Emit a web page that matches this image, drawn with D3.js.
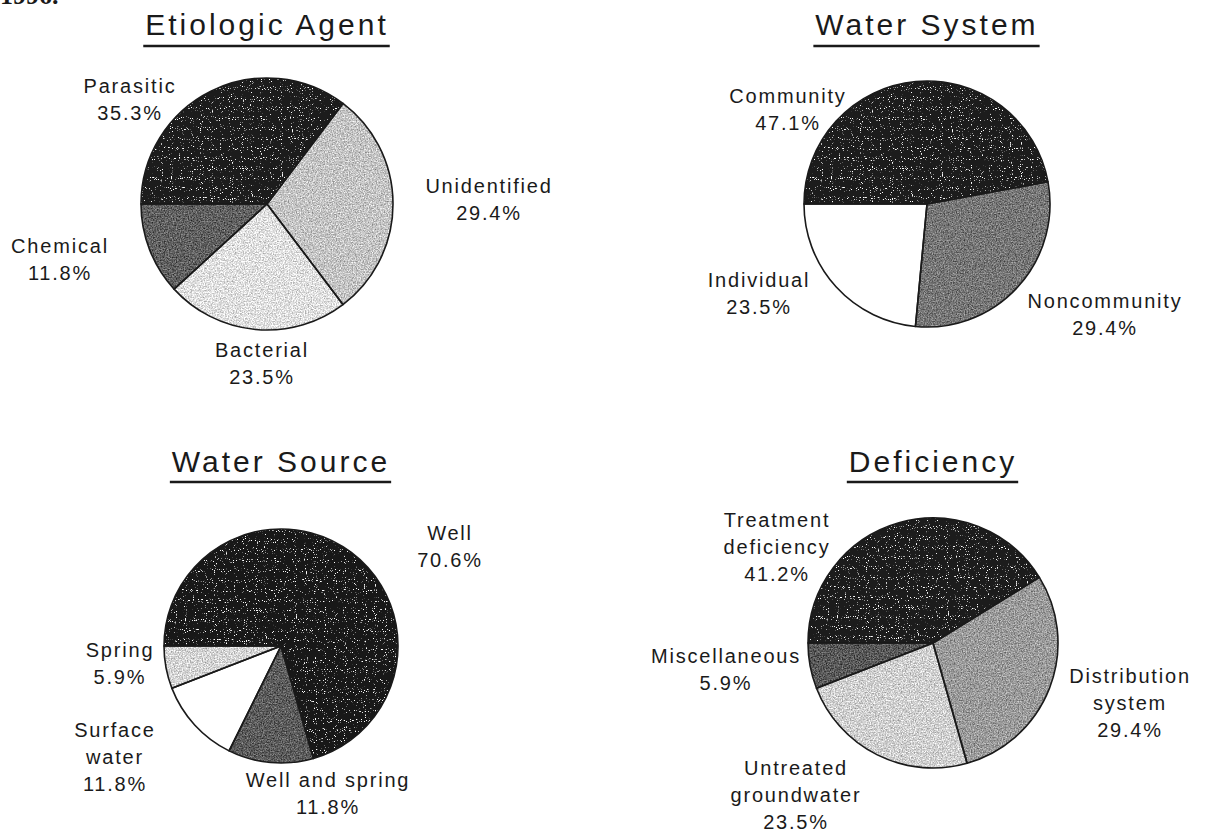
<!DOCTYPE html>
<html>
<head>
<meta charset="utf-8">
<script src="https://cdn.jsdelivr.net/npm/d3@7"></script>
<style>
  html, body { margin: 0; padding: 0; background: #fff; }
  svg { display: block; }
  text { font-family: "Liberation Sans", Arial, sans-serif; fill: #1a1a1a; }
</style>
</head>
<body>
<svg id="chart" width="1205" height="832"></svg>
<script>
// ---------- data ----------
const titles = ["Etiologic Agent", "Water System", "Water Source", "Deficiency"];

const etiologicLabels = ["Parasitic", "Unidentified", "Bacterial", "Chemical"];
const etiologicValues = [35.3, 29.4, 23.5, 11.8];

const systemLabels = ["Community", "Noncommunity", "Individual"];
const systemValues = [47.1, 29.4, 23.5];

const sourceLabels = ["Well", "Well and spring", "Surface\nwater", "Spring"];
const sourceValues = [70.6, 11.8, 11.8, 5.9];

const deficiencyLabels = ["Treatment\ndeficiency", "Distribution\nsystem", "Untreated\ngroundwater", "Miscellaneous"];
const deficiencyValues = [41.2, 29.4, 23.5, 5.9];

// ---------- styling / layout ----------
const fills = [
  ["#1c1c1c", "#c4c4c4", "#e0e0e0", "#606060"],
  ["#1c1c1c", "#767676", "#ffffff"],
  ["#181818", "#5c5c5c", "#ffffff", "#d4d4d4"],
  ["#1c1c1c", "#9a9a9a", "#d0d0d0", "#585858"]
];

const layout = [
  { cx: 267, cy: 204, r: 126, titleY: 35, lineY: 46,
    labels: [[130, 93], [489, 193], [262, 357], [60, 253]] },
  { cx: 927, cy: 204, r: 123, titleY: 35, lineY: 46,
    labels: [[788, 103], [1105, 308], [759, 287]] },
  { cx: 281, cy: 646, r: 117, titleY: 472, lineY: 482,
    labels: [[450, 540], [328, 787], [115, 737], [120, 657]] },
  { cx: 933, cy: 643, r: 125, titleY: 472, lineY: 482,
    labels: [[777, 527], [1130, 683], [796, 775], [726, 663]] }
];

const datasets = [
  { labels: etiologicLabels, values: etiologicValues },
  { labels: systemLabels, values: systemValues },
  { labels: sourceLabels, values: sourceValues },
  { labels: deficiencyLabels, values: deficiencyValues }
];

const svg = d3.select("#chart");
const fmt = d3.format(".1f");
const lineH = 27;

// texture filters imitating the halftone print
const defs = svg.append("defs");
const sp = defs.append("filter").attr("id", "speckle")
  .attr("x", "0").attr("y", "0").attr("width", "1").attr("height", "1")
  .attr("color-interpolation-filters", "sRGB");
sp.append("feTurbulence").attr("type", "fractalNoise").attr("baseFrequency", 0.9)
  .attr("numOctaves", 1).attr("seed", 11).attr("result", "n");
sp.append("feColorMatrix").attr("in", "n").attr("type", "matrix")
  .attr("values", "0 0 0 0 1  0 0 0 0 1  0 0 0 0 1  12 0 0 0 -7.7").attr("result", "dots");
sp.append("feComposite").attr("in", "dots").attr("in2", "SourceGraphic")
  .attr("operator", "in").attr("result", "d2");
const spm = sp.append("feMerge");
spm.append("feMergeNode").attr("in", "SourceGraphic");
spm.append("feMergeNode").attr("in", "d2");

const gr = defs.append("filter").attr("id", "grain")
  .attr("x", "0").attr("y", "0").attr("width", "1").attr("height", "1")
  .attr("color-interpolation-filters", "sRGB");
gr.append("feTurbulence").attr("type", "fractalNoise").attr("baseFrequency", 0.75)
  .attr("numOctaves", 2).attr("seed", 5).attr("result", "n");
gr.append("feColorMatrix").attr("in", "n").attr("type", "matrix")
  .attr("values", "1 0 0 0 0  1 0 0 0 0  1 0 0 0 0  0 0 0 0 1").attr("result", "g");
gr.append("feComposite").attr("in", "SourceGraphic").attr("in2", "g")
  .attr("operator", "arithmetic").attr("k1", 0).attr("k2", 1).attr("k3", 0.7).attr("k4", -0.35)
  .attr("result", "m");
gr.append("feComposite").attr("in", "m").attr("in2", "SourceGraphic").attr("operator", "in");

// cropped heading fragment at top-left
svg.append("text")
  .attr("x", 0).attr("y", 4)
  .style("font-family", "'Liberation Serif', serif")
  .style("font-weight", "bold")
  .style("font-size", "26px")
  .text("1996.");

const pie = d3.pie().sort(null).value(d => d.value)
  .startAngle(-Math.PI / 2).endAngle(Math.PI * 1.5);

function textureFor(col) {
  const l = d3.hsl(col).l;
  if (l > 0.97) return null;
  return l < 0.2 ? "url(#speckle)" : "url(#grain)";
}

datasets.forEach((ds, i) => {
  const L = layout[i];
  const rows = ds.labels.map((l, j) => ({ label: l, value: ds.values[j] }));
  const arcs = pie(rows);
  const arc = d3.arc().innerRadius(0).outerRadius(L.r);

  const g = svg.append("g");

  // title
  const t = g.append("text")
    .attr("x", L.cx).attr("y", L.titleY)
    .attr("text-anchor", "middle")
    .style("font-size", "30px")
    .style("letter-spacing", "3px")
    .text(titles[i]);
  const bb = t.node().getBBox();
  g.append("line")
    .attr("x1", bb.x - 2).attr("x2", bb.x + bb.width + 1)
    .attr("y1", L.lineY).attr("y2", L.lineY)
    .attr("stroke", "#1a1a1a").attr("stroke-width", 2.5);

  // slices: textured fills, then outlines
  const pg = g.append("g").attr("transform", `translate(${L.cx},${L.cy})`);
  pg.selectAll("path.fill").data(arcs).join("path")
    .attr("class", "fill")
    .attr("d", arc)
    .attr("fill", (d, j) => fills[i][j])
    .attr("filter", (d, j) => textureFor(fills[i][j]));
  pg.selectAll("path.edge").data(arcs).join("path")
    .attr("class", "edge")
    .attr("d", arc)
    .attr("fill", "none")
    .attr("stroke", "#1a1a1a")
    .attr("stroke-width", 1.6)
    .attr("stroke-linejoin", "round");

  // labels
  arcs.forEach((d, j) => {
    const [lx, ly] = L.labels[j];
    const lines = d.data.label.split("\n").concat([fmt(d.data.value) + "%"]);
    const tx = g.append("text")
      .attr("text-anchor", "middle")
      .style("font-size", "20px")
      .style("letter-spacing", "1.8px");
    lines.forEach((s, k) => {
      tx.append("tspan").attr("x", lx).attr("y", ly + k * lineH).text(s);
    });
  });
});
</script>
</body>
</html>
